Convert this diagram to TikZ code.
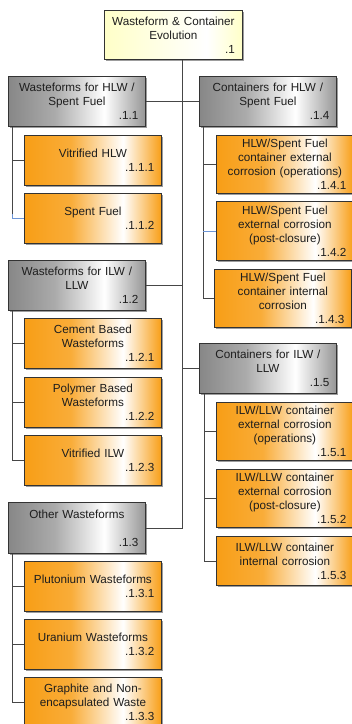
\documentclass[tikz,border=0pt]{standalone}
\usepackage{fontspec}
\setmainfont{Liberation Sans}
\usetikzlibrary{shadows,calc}
\definecolor{orA}{RGB}{248,158,22}
\definecolor{grA}{RGB}{135,135,135}
\definecolor{grB}{RGB}{150,150,150}
\definecolor{yeA}{RGB}{255,255,200}
\definecolor{txt}{RGB}{30,30,30}
\definecolor{lnc}{RGB}{70,70,70}
\definecolor{blc}{RGB}{110,150,215}
\pgfdeclarehorizontalshading{orsh}{100bp}{color(0bp)=(orA); color(25bp)=(orA); color(42bp)=(orA!85!white); color(61bp)=(white); color(75bp)=(orA); color(100bp)=(orA)}
\pgfdeclarehorizontalshading{grsh}{100bp}{color(0bp)=(grA); color(25bp)=(grA); color(42bp)=(grA!70!white); color(60bp)=(white); color(75bp)=(grB); color(100bp)=(grB)}
\pgfdeclarehorizontalshading{yesh}{100bp}{color(0bp)=(yeA); color(25bp)=(yeA); color(62bp)=(white); color(75bp)=(yeA); color(100bp)=(yeA)}
\tikzset{
  box/.style={draw=black!80, line width=0.8pt, anchor=north west, minimum width=137pt,
    inner sep=0pt, text width=123pt, align=center, text=txt,
    font=\fontsize{11.7}{14}\selectfont,
    drop shadow={shadow xshift=1.2pt, shadow yshift=-1.2pt, fill=black!55, opacity=0.7}},
  obox/.style={box, shading=orsh},
  gbox/.style={box, shading=grsh},
  ybox/.style={box, shading=yesh},
  conn/.style={draw=lnc, line width=0.7pt},
  bconn/.style={draw=blc, line width=0.7pt}
}
\newcommand{\num}[1]{\\\hspace*{\fill}#1}
\begin{document}
\begin{tikzpicture}[x=1pt,y=1pt]
\useasboundingbox (0,0) rectangle (352,-724);
% top
\node[ybox, minimum width=138pt, minimum height=49pt] (n1) at (104,-10) {Wasteform \& Container\\Evolution\num{.1}};
% left column
\node[gbox, minimum height=50pt] (n11) at (8,-76) {Wasteforms for HLW /\\Spent Fuel\num{.1.1}};
\node[obox, minimum height=50pt] (n111) at (24,-135) {Vitrified HLW\num{.1.1.1}};
\node[obox, minimum height=50pt] (n112) at (24,-193) {Spent Fuel\num{.1.1.2}};
\node[gbox, minimum height=50pt] (n12) at (8,-260) {Wasteforms for ILW /\\LLW\num{.1.2}};
\node[obox, minimum height=50pt] (n121) at (24,-318) {Cement Based\\Wasteforms\num{.1.2.1}};
\node[obox, minimum height=50pt] (n122) at (24,-377) {Polymer Based\\Wasteforms\num{.1.2.2}};
\node[obox, minimum height=50pt] (n123) at (24,-435) {Vitrified ILW\num{.1.2.3}};
\node[gbox, minimum height=51pt] (n13) at (8,-502) {Other Wasteforms\\\mbox{}\num{.1.3}};
\node[obox, minimum height=50pt] (n131) at (24,-561) {Plutonium Wasteforms\num{.1.3.1}};
\node[obox, minimum height=50pt] (n132) at (24,-619) {Uranium Wasteforms\num{.1.3.2}};
\node[obox, minimum height=50pt] (n133) at (24,-677) {Graphite and Non-\\encapsulated Waste\num{.1.3.3}};
% right column
\node[gbox, minimum height=50pt] (n14) at (199,-76) {Containers for HLW /\\Spent Fuel\num{.1.4}};
\node[obox, minimum height=58pt] (n141) at (216,-135) {HLW/Spent Fuel\\container external\\corrosion (operations)\num{.1.4.1}};
\node[obox, minimum height=59pt] (n142) at (216,-201) {HLW/Spent Fuel\\external corrosion\\(post-closure)\num{.1.4.2}};
\node[obox, minimum height=58pt] (n143) at (214,-269) {HLW/Spent Fuel\\container internal\\corrosion\num{.1.4.3}};
\node[gbox, minimum height=50pt] (n15) at (199,-343) {Containers for ILW /\\LLW\num{.1.5}};
\node[obox, minimum height=58pt] (n151) at (216,-402) {ILW/LLW container\\external corrosion\\(operations)\num{.1.5.1}};
\node[obox, minimum height=58pt] (n152) at (216,-469) {ILW/LLW container\\external corrosion\\(post-closure)\num{.1.5.2}};
\node[obox, minimum height=49pt] (n153) at (216,-536) {ILW/LLW container\\internal corrosion\num{.1.5.3}};
% connectors
\coordinate (tk) at (182,0);
\draw[conn] (n1.south -| tk) -- (n13.east -| tk) -- (n13.east);
\draw[conn] (n11.east) -- (n14.west);
\draw[conn] (n12.east) -- (n12.east -| tk);
\draw[conn] (n15.west) -- (n15.west -| tk);
% left children
\coordinate (L1) at ([xshift=4pt]n11.south west);
\draw[conn] (L1) |- (n111.west);
\draw[conn] (L1) -- ([yshift=4pt]L1 |- n112.west);
\draw[bconn] ([yshift=4pt]L1 |- n112.west) |- (n112.west);
\coordinate (L2) at ([xshift=4pt]n12.south west);
\draw[conn] (L2) |- (n121.west);
\draw[conn] (L2) |- (n122.west);
\draw[conn] (L2) |- (n123.west);
\coordinate (L3) at ([xshift=4pt]n13.south west);
\draw[conn] (L3) |- (n131.west);
\draw[conn] (L3) |- (n132.west);
\draw[conn] (L3) |- (n133.west);
% right children
\coordinate (R1) at ([xshift=4pt]n14.south west);
\draw[conn] (R1) |- (n141.west);
\draw[conn] (R1) |- (n143.west);
\draw[bconn] (R1 |- n142.west) -- (n142.west);
\coordinate (R2) at ([xshift=5pt]n15.south west);
\draw[conn] (R2) |- (n151.west);
\draw[conn] (R2) |- (n152.west);
\draw[conn] (R2) |- (n153.west);
\end{tikzpicture}
\end{document}
